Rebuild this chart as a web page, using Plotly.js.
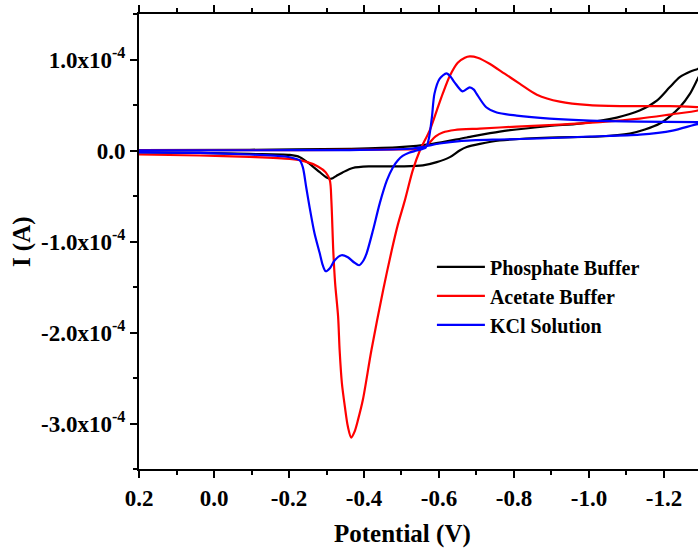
<!DOCTYPE html>
<html>
<head>
<meta charset="utf-8">
<script src="https://cdn.plot.ly/plotly-3.0.1.min.js"></script>
<style>html,body{margin:0;padding:0;background:#fff;}#chart{width:698px;height:548px;}</style>
</head>
<body>
<div id="chart"></div>
<script>
// Phosphate Buffer (black) – closed CV loop
const phosphateV = [0.2,0.038,-0.095,-0.202,-0.229,-0.255,-0.282,-0.300,-0.313,-0.326,-0.343,-0.370,-0.415,-0.503,-0.557,-0.594,-0.629,-0.655,-0.674,-0.709,-0.762,-0.895,-1.029,-1.109,-1.149,-1.189,-1.215,-1.242,-1.269,-1.290,-1.300,
  -1.300,-1.290,-1.269,-1.242,-1.215,-1.181,-1.135,-1.074,-0.975,-0.895,-0.762,-0.674,-0.583,-0.495,-0.362,-0.095,0.2];
const phosphateI = [-0.022,-0.027,-0.038,-0.049,-0.073,-0.146,-0.238,-0.296,-0.310,-0.280,-0.241,-0.192,-0.175,-0.175,-0.164,-0.128,-0.073,0.0,0.038,0.073,0.110,0.143,0.154,0.186,0.230,0.296,0.373,0.475,0.622,0.789,0.866,
  0.916,0.896,0.866,0.806,0.694,0.548,0.439,0.362,0.296,0.269,0.208,0.143,0.073,0.036,0.019,0.008,0.004];

// Acetate Buffer (red)
const acetateV = [0.2,0.038,-0.095,-0.202,-0.242,-0.277,-0.298,-0.309,-0.313,-0.318,-0.323,-0.331,-0.335,-0.341,-0.349,-0.357,-0.366,-0.375,-0.384,-0.397,-0.420,-0.451,-0.474,-0.490,-0.509,-0.530,-0.549,-0.575,-0.594,-0.610,-0.629,-0.650,-0.669,-0.682,-0.703,-0.735,-0.775,-0.815,-0.861,-0.922,-1.002,-1.109,-1.215,-1.290,-1.300,
  -1.300,-1.290,-1.215,-1.135,-1.029,-0.922,-0.807,-0.709,-0.642,-0.610,-0.591,-0.575,-0.562,-0.543,-0.495,-0.229,0.038,0.2];
const acetateI = [-0.044,-0.055,-0.071,-0.093,-0.120,-0.175,-0.240,-0.330,-0.550,-1.096,-1.458,-1.828,-2.193,-2.555,-2.815,-3.034,-3.155,-3.088,-2.960,-2.740,-2.190,-1.535,-1.096,-0.820,-0.548,-0.219,0.0,0.219,0.439,0.625,0.822,0.965,1.020,1.034,1.020,0.954,0.844,0.735,0.614,0.537,0.499,0.488,0.488,0.477,0.475,
  0.460,0.439,0.395,0.351,0.3125,0.285,0.263,0.241,0.225,0.197,0.154,0.088,0.038,0.016,0.011,0.005,0.005,0.005];

// KCl Solution (blue)
const kclV = [0.2,0.038,-0.095,-0.189,-0.215,-0.229,-0.237,-0.246,-0.255,-0.268,-0.282,-0.290,-0.298,-0.309,-0.322,-0.340,-0.357,-0.373,-0.387,-0.399,-0.407,-0.424,-0.442,-0.461,-0.477,-0.490,-0.503,-0.520,-0.541,-0.565,-0.573,-0.581,-0.588,-0.602,-0.620,-0.631,-0.642,-0.663,-0.682,-0.693,-0.700,-0.726,-0.754,-0.807,-0.895,-1.002,-1.135,-1.290,-1.300,
  -1.300,-1.290,-1.223,-1.135,-1.002,-0.869,-0.762,-0.655,-0.602,-0.562,-0.522,-0.362,-0.095,0.2];
const kclI = [-0.022,-0.027,-0.044,-0.066,-0.088,-0.110,-0.186,-0.406,-0.625,-0.910,-1.130,-1.260,-1.327,-1.294,-1.206,-1.151,-1.173,-1.228,-1.261,-1.206,-1.130,-0.877,-0.581,-0.329,-0.186,-0.110,-0.060,-0.025,0.0,0.033,0.132,0.362,0.625,0.789,0.848,0.811,0.746,0.650,0.694,0.669,0.625,0.475,0.417,0.384,0.351,0.329,0.318,0.3125,0.312,
  0.290,0.290,0.219,0.175,0.154,0.132,0.121,0.104,0.077,0.044,0.019,0.005,0.003,0.002];

const seriesNames = ["Phosphate Buffer","Acetate Buffer","KCl Solution"];
const seriesColors = ["#000000","#ff0000","#0000ff"];
const scale = 1e-4;

const xTickVals = [0.2,0.0,-0.2,-0.4,-0.6,-0.8,-1.0,-1.2];
const xTickText = ["0.2","0.0","-0.2","-0.4","-0.6","-0.8","-1.0","-1.2"];
const yTickVals = [-3e-4,-2e-4,-1e-4,0,1e-4];
const yTickText = ["-3.0x10<sup>-4</sup>","-2.0x10<sup>-4</sup>","-1.0x10<sup>-4</sup>","0.0","1.0x10<sup>-4</sup>"];

const allV = [phosphateV, acetateV, kclV];
const allI = [phosphateI, acetateI, kclI];

const traces = allV.map((v,k) => ({
  x: v,
  y: allI[k].map(i => i*scale),
  type: 'scatter',
  mode: 'lines',
  name: seriesNames[k],
  line: {color: seriesColors[k], width: 2.2, shape: 'spline', smoothing: 0.8},
  cliponaxis: true
}));

const font = "'Liberation Serif', 'Times New Roman', serif";
const layout = {
  width: 698, height: 548,
  margin: {l: 139.3, r: 0, t: 13.5, b: 78.7},
  paper_bgcolor: '#fff', plot_bgcolor: '#fff',
  font: {family: font, color: '#000'},
  showlegend: true,
  legend: {
    x: 0.524, y: 0.487, xanchor: 'left', yanchor: 'top',
    bgcolor: 'rgba(0,0,0,0)', borderwidth: 0,
    itemwidth: 48,
    font: {family: font, size: 20, weight: 'bold', color: '#000'},
    tracegroupgap: 0
  },
  xaxis: {
    range: [0.2, -1.2907], autorange: false,
    showgrid: false, zeroline: false,
    showline: true, linecolor: '#000', linewidth: 2,
    mirror: 'ticks',
    ticks: 'outside', ticklen: 7, tickwidth: 2, tickcolor: '#000',
    tickmode: 'array', tickvals: xTickVals, ticktext: xTickText,
    tickfont: {family: font, size: 23, weight: 'bold', color: '#000'},
    minor: {dtick: 0.1, tick0: 0, ticks: 'outside', ticklen: 4, tickwidth: 2, tickcolor: '#000', showgrid: false}
  },
  yaxis: {
    range: [-3.5e-4, 1.5e-4], autorange: false,
    showgrid: false, zeroline: false,
    showline: true, linecolor: '#000', linewidth: 2,
    mirror: false,
    ticks: 'outside', ticklen: 7, tickwidth: 2, tickcolor: '#000',
    tickmode: 'array', tickvals: yTickVals, ticktext: yTickText,
    tickfont: {family: font, size: 23, weight: 'bold', color: '#000'},
    minor: {dtick: 0.5e-4, tick0: 0, ticks: 'outside', ticklen: 4, tickwidth: 2, tickcolor: '#000', showgrid: false}
  },
  annotations: [
    {text: 'Potential (V)', xref: 'paper', yref: 'paper', x: 0.472, y: -0.142,
     xanchor: 'center', yanchor: 'middle', showarrow: false,
     font: {family: font, size: 25, weight: 'bold', color: '#000'}},
    {text: 'I (A)', xref: 'paper', yref: 'paper', x: -0.21, y: 0.5, textangle: -90,
     xanchor: 'center', yanchor: 'middle', showarrow: false,
     font: {family: font, size: 25, weight: 'bold', color: '#000'}}
  ]
};

Plotly.newPlot('chart', traces, layout, {displayModeBar: false, staticPlot: true});
</script>
</body>
</html>
